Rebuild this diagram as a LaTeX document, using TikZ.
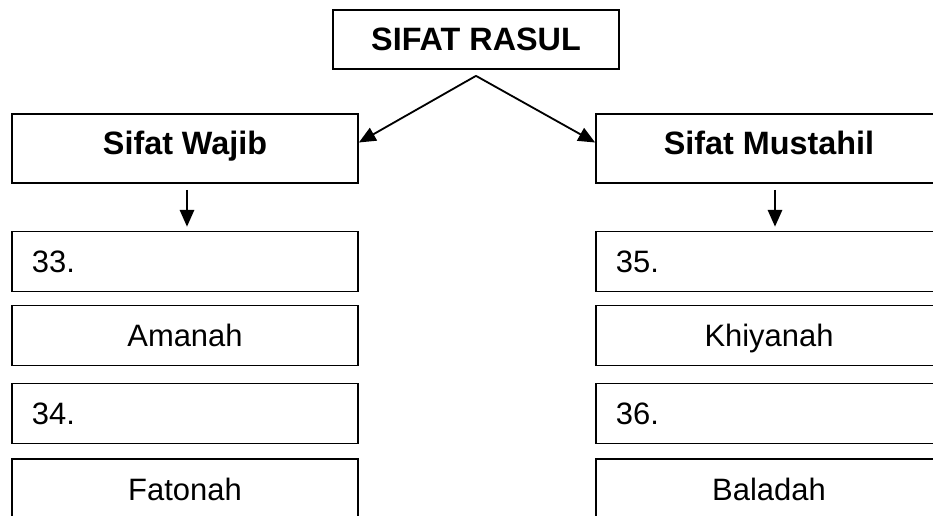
\documentclass[tikz,border=0pt]{standalone}
\usepackage{fontspec}
\setmainfont{Liberation Sans}
\usetikzlibrary{arrows.meta}

\tikzset{
	box/.style={draw, line width=1.2pt, minimum width=8.65cm, minimum height=1.5cm, inner sep=0pt, text height=16pt, text depth=0pt, font=\fontsize{22pt}{26pt}\selectfont},
	headbox/.style={box, minimum height=1.725cm, text depth=7pt, font=\fontsize{23pt}{27pt}\selectfont\bfseries},
	numbox/.style={box, text width=7.65cm, inner xsep=0.5cm, align=left},
	arr/.style={line width=1.3pt, -{Triangle[length=0.42cm, width=0.36cm]}}
}

\begin{document}
\begin{tikzpicture}[x=0.025cm, y=-0.025cm]
	\useasboundingbox (0,0) rectangle (933,515);
	\clip (0,0) rectangle (933,515);

	\node[headbox, minimum width=7.15cm, minimum height=1.475cm, text depth=0pt] (rasul) at (476,39.5) {SIFAT RASUL};
	\node[headbox] (wajib) at (185,148.5) {Sifat Wajib};
	\node[headbox] (mustahil) at (769,148.5) {Sifat Mustahil};

	\node[numbox] (n33) at (185,261.5) {33.};
	\node[box] (amanah) at (185,335.5) {Amanah};
	\node[numbox] (n34) at (185,413.5) {34.};
	\node[box] (fatonah) at (185,489) {Fatonah};

	\node[numbox] (n35) at (769,261.5) {35.};
	\node[box] (khiyanah) at (769,335.5) {Khiyanah};
	\node[numbox] (n36) at (769,413.5) {36.};
	\node[box] (baladah) at (769,489) {Baladah};

	\coordinate (apex) at ([yshift=-0.15cm]rasul.south);
	\draw[arr] (apex) -- ([yshift=0.15cm]wajib.east);
	\draw[arr] (apex) -- ([yshift=0.15cm]mustahil.west);

	\draw[arr] ([xshift=0.05cm, yshift=-0.15cm]wajib.south) -- ([xshift=0.05cm, yshift=0.1cm]n33.north);
	\draw[arr] ([xshift=0.15cm, yshift=-0.15cm]mustahil.south) -- ([xshift=0.15cm, yshift=0.1cm]n35.north);
\end{tikzpicture}
\end{document}
